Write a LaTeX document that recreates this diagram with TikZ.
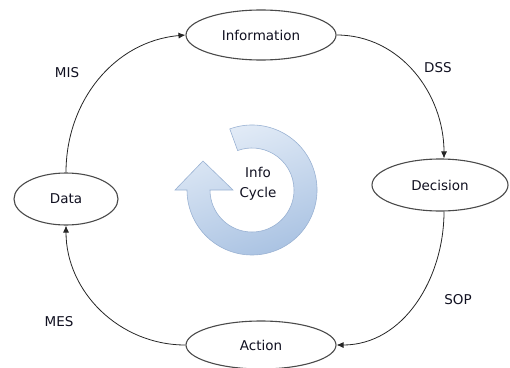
\documentclass[tikz,border=0pt]{standalone}
\usepackage{fontspec}
\setmainfont{DejaVu Sans}
\usetikzlibrary{shapes.geometric,arrows.meta}
\definecolor{ringlight}{HTML}{E6EEF8}
\definecolor{ringdark}{HTML}{A9C2E2}
\definecolor{ringedge}{HTML}{9AB2D3}
\definecolor{ellline}{HTML}{4A4A4A}
\definecolor{txt}{HTML}{101020}
\tikzset{
  stage/.style={ellipse, draw=ellline, line width=1.1pt, inner sep=0pt, fill=white,
    font=\fontsize{13.5}{16}\selectfont, text=txt},
  flow/.style={draw=black!85, line width=0.8pt, -{Latex[length=7pt,width=6pt]}},
  lbl/.style={font=\fontsize{13.5}{16}\selectfont, text=txt, inner sep=0pt},
}
\begin{document}
\begin{tikzpicture}[x=1pt,y=1pt]
\useasboundingbox (0,0) rectangle (510,-367);
% nodes
\node[stage, minimum width=150pt, minimum height=50pt] (info) at (261,-35) {Information};
\node[stage, minimum width=136pt, minimum height=52pt] (dec) at (440,-185) {Decision};
\node[stage, minimum width=104pt, minimum height=52pt] (data) at (66,-199) {Data};
\node[stage, minimum width=150pt, minimum height=48pt] (act) at (261,-345) {Action};
% connectors
\draw[flow] (data.north) to[out=90,in=185] (info.west);
\draw[flow] (info.east) to[out=0,in=90] ([xshift=4pt]dec.north);
\draw[flow] ([xshift=4pt]dec.south) to[out=-90,in=0] (act.east);
\draw[flow] (act.west) to[out=180,in=-90] (data.south);
% labels
\node[lbl] (mis) at (67,-73) {MIS};
\node[lbl] (dss) at (438,-68) {DSS};
\node[lbl] (sop) at (458,-300) {SOP};
\node[lbl] (mes) at (59,-322) {MES};
% circular arrow
\shadedraw[draw=ringedge, line width=0.6pt, top color=ringlight, bottom color=ringdark, shading angle=20]
  (252,-190) ++(110:65) arc[start angle=110, end angle=-180, radius=65]
  -- (175,-190) -- (203,-161) -- (233,-190) -- (210,-190)
  arc[start angle=-180, end angle=110, radius=42] -- cycle;
\node[lbl, align=center, font=\fontsize{13.5}{20}\selectfont] (cyc) at (258,-184) {Info\\Cycle};
\end{tikzpicture}
\end{document}
